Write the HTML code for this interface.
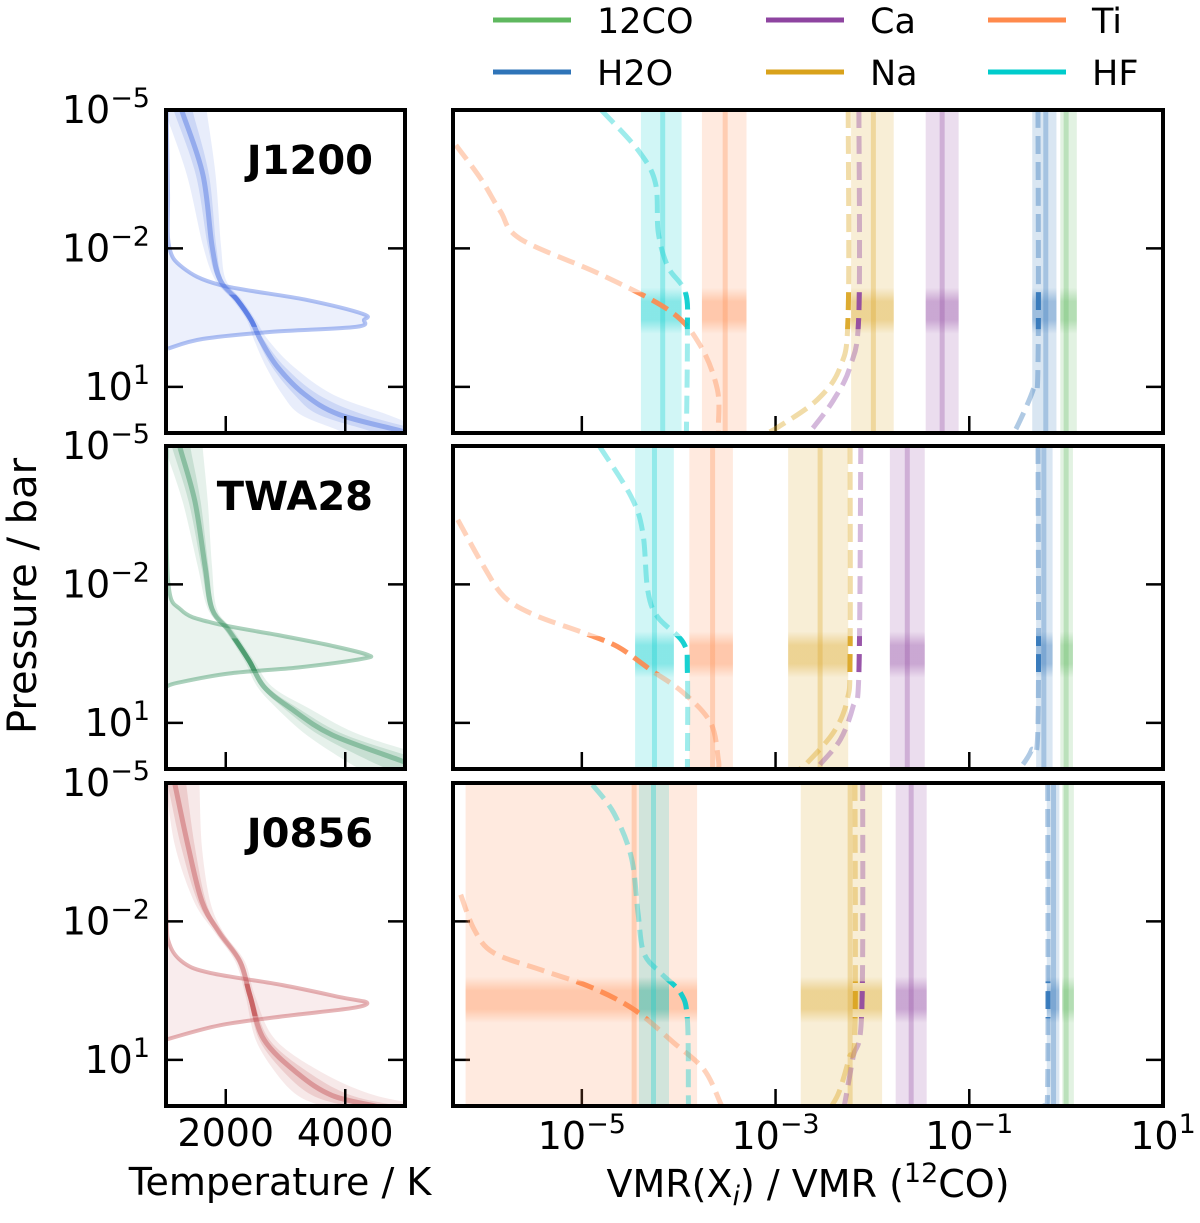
<!DOCTYPE html>
<html><head><meta charset="utf-8"><style>
body{margin:0;background:#fff;}
svg{display:block;font-family:"DejaVu Sans","Liberation Sans",sans-serif;}
</style></head><body>
<svg id="fig" width="1200" height="1223" viewBox="0 0 1200 1223" xmlns="http://www.w3.org/2000/svg">
<g id="legend"></g>
<g id="plots"></g>
<g id="labels"></g>
</svg>
<script>
// ---------- data ----------
const rowNames = ["J1200","TWA28","J0856"];
const rowColors = ["#4169e1","#2e8b57","#c0474a"];
const species = ["12CO","H2O","Ca","Na","Ti","HF"];
const specColors = {"12CO":"#5fb85f","H2O":"#2f74b8","Ca":"#8e44a0","Na":"#d9a21b","Ti":"#ff8a4c","HF":"#00cccc"};
const bandLogP = [-0.65,-0.48,-0.30];
const vmrCenter = [[0,-0.21,-1.28,-1.99,-3.52,-4.165],[0,-0.23,-1.64,-2.54,-3.65,-4.25],[0,-0.13,-1.60,-2.23,-4.46,-4.26]];
const vmrLo = [[-0.06,-0.35,-1.45,-2.22,-3.76,-4.39],[-0.06,-0.31,-1.82,-2.87,-3.89,-4.45],[-0.04,-0.20,-1.76,-2.74,-6.20,-4.41]];
const vmrHi = [[0.11,-0.10,-1.11,-1.78,-3.30,-3.97],[0.07,-0.14,-1.46,-2.25,-3.44,-4.05],[0.08,-0.07,-1.44,-1.90,-3.81,-4.10]];
const chemP = [
 {Ti:[-4.24,-3.5,-2.8,-2.2,-1.43,-0.63,0.13,1.06,1.86,2], HF:[-5,-4.13,-3.42,-2.34,-1.60,-1.04,-0.17,2], Na:[-5,-0.61,0.56,1.28,1.88,2], Ca:[-5,-0.61,0.56,1.28,1.88,2], H2O:[-5,0.5,1.06,1.88,2]},
 {Ti:[-3.4,-2.38,-1.73,-1.34,-0.95,-0.65,-0.15,0.35,1.0,1.8,2], HF:[-5,-3.9,-3.12,-1.88,-1.3,-0.73,-0.09,2], Na:[-5,-0.52,0.5,1.2,1.86,2], Ca:[-5,-0.09,0.65,1.36,1.9,2], H2O:[-5,1.0,1.6,2]},
 {Ti:[-2.58,-1.82,-1.32,-0.95,-0.58,-0.09,0.63,1.21,1.93,2], HF:[-4.96,-4.35,-3.4,-2.19,-1.32,-0.89,-0.45,0.13,1.86,2], Na:[-5,0.3,0.95,1.67,2], Ca:[-5,-0.06,0.95,2], H2O:[-5,1.5,2]}
];
const chemV = [
 {Ti:[-6.30,-6.04,-5.84,-5.63,-4.80,-4.08,-3.77,-3.60,-3.59,-3.59], HF:[-4.80,-4.42,-4.24,-4.21,-4.11,-3.93,-3.91,-3.92], Na:[-2.25,-2.25,-2.33,-2.57,-2.98,-3.1], Ca:[-2.14,-2.14,-2.23,-2.40,-2.61,-2.68], H2O:[-0.29,-0.29,-0.34,-0.51,-0.56]},
 {Ti:[-6.28,-6.01,-5.80,-5.49,-4.98,-4.63,-4.29,-3.95,-3.67,-3.59,-3.59], HF:[-4.82,-4.49,-4.37,-4.32,-4.22,-3.95,-3.91,-3.91], Na:[-2.23,-2.23,-2.26,-2.40,-2.67,-2.75], Ca:[-2.12,-2.14,-2.20,-2.33,-2.54,-2.58], H2O:[-0.29,-0.29,-0.36,-0.48]},
 {Ti:[-6.25,-6.11,-5.91,-5.42,-4.91,-4.46,-4.05,-3.74,-3.57,-3.56], HF:[-4.89,-4.67,-4.49,-4.42,-4.36,-4.19,-3.98,-3.91,-3.90,-3.90], Na:[-2.18,-2.18,-2.24,-2.34,-2.42], Ca:[-2.10,-2.11,-2.20,-2.29], H2O:[-0.19,-0.19,-0.23]}
];
const tpP = [[-5,-4.91,-3.59,-2.06,-1.32,-0.89,-0.45,0,0.58,1.17,1.6,1.95,2.1],
             [-5,-4.89,-3.79,-2.4,-1.47,-1.0,-0.35,0.22,0.69,1.26,1.82,2.1],
             [-5,-4.96,-3.64,-2.43,-1.77,-1.13,-0.39,0.56,1.30,1.77,2.0,2.1]];
const tpT = [[1260,1285,1619,1770,1904,2188,2423,2590,2874,3326,3895,4916,5300],
             [1230,1251,1485,1653,1770,2054,2389,2640,3092,3778,4933,5500],
             [1140,1151,1368,1602,1887,2238,2406,2640,3209,3778,4500,4800]];
const tpLo1 = [[1120,1150,1500,1700,1860,2150,2390,2540,2780,3150,3550,4400,4700],
               [1100,1120,1380,1590,1730,2020,2350,2590,2980,3560,4400,4900],
               [1020,1030,1250,1530,1850,2200,2370,2560,3000,3450,4000,4200]];
const tpHi1 = [[1460,1460,1720,1840,1950,2230,2460,2650,3000,3550,4300,5300,5700],
               [1420,1420,1580,1710,1810,2090,2430,2700,3220,4000,5300,5800],
               [1340,1340,1480,1670,1920,2280,2450,2730,3420,4100,4900,5200]];
const tpLo2 = [[1000,1000,1350,1620,1820,2110,2350,2480,2680,2950,3250,3900,4100],
               [1000,1000,1280,1530,1700,1990,2310,2530,2860,3350,4000,4400],
               [1000,1000,1150,1470,1810,2160,2330,2500,2850,3200,3600,3800]];
const tpHi2 = [[1690,1690,1830,1920,2000,2270,2500,2720,3150,3800,4700,5400,5800],
               [1620,1620,1700,1770,1850,2130,2470,2780,3400,4250,5600,6000],
               [1560,1560,1600,1740,1960,2320,2490,2830,3650,4500,5400,5600]];
const cfP = [[-5,-3.23,-2.06,-1.58,-1.21,-0.89,-0.58,-0.45,-0.30,-0.19,-0.04,0.17],
             [-5,-2.1,-1.45,-1.17,-0.89,-0.67,-0.48,-0.39,-0.2,-0.07,0.13,0.22],
             [-5,-2.2,-1.5,-1.1,-0.88,-0.62,-0.35,-0.24,-0.12,0.05,0.25,0.56]];
const cfT = [[1010,1033,1050,1285,1904,3326,4297,4314,4180,2757,1619,1033],
             [1010,1033,1251,1770,2925,3778,4364,4297,3209,2054,1201,1000],
             [1005,1010,1060,1300,1750,2950,3950,4364,4100,3000,1900,1000]];
const leftXTicks = [2000,4000];
const leftXTickLabels = ["2000","4000"];
const rightXTicks = [-5,-3,-1,1];
const yTicks = [-5,-2,1];

// ---------- geometry ----------
const NS="http://www.w3.org/2000/svg";
const rowTop=[110,446,783], H=323;
const L0=166,L1=405,R0=453,R1=1163;
function yP(r,lp){return rowTop[r]+(lp+5)*H/7;}
function xT(t){return L0+(t-1000)/4000*(L1-L0);}
function xV(v){return R0+(v+6.33)/7.33*(R1-R0);}
function mk(tag,attrs,parent){const e=document.createElementNS(NS,tag);for(const k in attrs)e.setAttribute(k,attrs[k]);if(parent)parent.appendChild(e);return e;}
function smooth(pts){
  if(pts.length<2)return "";
  let d="M"+pts[0][0].toFixed(1)+","+pts[0][1].toFixed(1);
  for(let i=0;i<pts.length-1;i++){
    const p0=pts[Math.max(0,i-1)],p1=pts[i],p2=pts[i+1],p3=pts[Math.min(pts.length-1,i+2)];
    const c1=[p1[0]+(p2[0]-p0[0])/6,p1[1]+(p2[1]-p0[1])/6];
    const c2=[p2[0]-(p3[0]-p1[0])/6,p2[1]-(p3[1]-p1[1])/6];
    d+="C"+c1[0].toFixed(1)+","+c1[1].toFixed(1)+" "+c2[0].toFixed(1)+","+c2[1].toFixed(1)+" "+p2[0].toFixed(1)+","+p2[1].toFixed(1);
  }
  return d;
}
const svg=document.getElementById('fig');
const plots=document.getElementById('plots');
const labels=document.getElementById('labels');
const defs=mk('defs',{},svg);

function tenLabel(x,y,exp,anchor,name){
  const t=mk('text',{x:x,y:y,'font-size':38,'text-anchor':anchor,fill:'#000'},labels);
  
  
  const a=mk('tspan',{},t);a.textContent='10';
  const b=mk('tspan',{dy:-16,'font-size':27},t);b.textContent=exp;
  return t;
}

for(let r=0;r<3;r++){
  const top=rowTop[r],bot=top+H;
  const col=rowColors[r];
  const bp=bandLogP[r];
  const cl=mk('clipPath',{id:'cl'+r},defs);mk('rect',{x:L0,y:top,width:L1-L0,height:H},cl);
  const cr=mk('clipPath',{id:'cr'+r},defs);mk('rect',{x:R0,y:top,width:R1-R0,height:H},cr);
  const cbl=mk('clipPath',{id:'cbl'+r},defs);mk('rect',{x:L0,y:yP(r,bp-0.35),width:L1-L0,height:yP(r,bp+0.35)-yP(r,bp-0.35)},cbl);
  const cbr=mk('clipPath',{id:'cbr'+r},defs);mk('rect',{x:R0,y:yP(r,bp-0.4),width:R1-R0,height:yP(r,bp+0.4)-yP(r,bp-0.4)},cbr);

  const gl=mk('g',{'clip-path':'url(#cl'+r+')'},plots);
  
  
  function env(lo,hi,op,nm){
    const up=tpP[r].map((p,i)=>[xT(lo[r][i]),yP(r,p)]);
    const dn=tpP[r].map((p,i)=>[xT(hi[r][i]),yP(r,p)]).reverse();
    const d=smooth(up)+" L"+smooth(dn).slice(1)+"Z";
    const e=mk('path',{d:d,fill:col,'fill-opacity':op,stroke:'none'},gl);
    
    
  }
  env(tpLo2,tpHi2,0.12,'pt-envelope-2sigma');
  env(tpLo1,tpHi1,0.17,'pt-envelope-1sigma');
  const cpts=cfP[r].map((p,i)=>[xT(cfT[r][i]),yP(r,p)]);
  const cd=smooth(cpts);
  const cf=mk('path',{d:cd+" L"+L0+","+cpts[cpts.length-1][1].toFixed(1)+" L"+L0+","+top+"Z",fill:col,'fill-opacity':0.1,stroke:'none'},gl);
  
  
  const cline=mk('path',{d:cd,fill:'none',stroke:col,'stroke-opacity':0.4,'stroke-width':4},gl);
  
  
  const mpts=tpP[r].map((p,i)=>[xT(tpT[r][i]),yP(r,p)]);
  const md=smooth(mpts);
  const ml=mk('path',{d:md,fill:'none',stroke:col,'stroke-opacity':0.4,'stroke-width':5},gl);
  
  
  const mld=mk('path',{d:md,fill:'none',stroke:col,'stroke-opacity':0.6,'stroke-width':5,'clip-path':'url(#cbl'+r+')'},plots);
  
  
  const fl=mk('rect',{x:L0,y:top,width:L1-L0,height:H,fill:'none',stroke:'#000','stroke-width':4},plots);
  
  
  yTicks.forEach(v=>{
    if(v===-5)return;
    const y=yP(r,v);
    mk('line',{x1:L0,y1:y,x2:L0+17,y2:y,stroke:'#000','stroke-width':2.5},plots);
    mk('line',{x1:L1-17,y1:y,x2:L1,y2:y,stroke:'#000','stroke-width':2.5},plots);
    mk('line',{x1:R0,y1:y,x2:R0+17,y2:y,stroke:'#000','stroke-width':2.5},plots);
    mk('line',{x1:R1-17,y1:y,x2:R1,y2:y,stroke:'#000','stroke-width':2.5},plots);
  });
  leftXTicks.forEach(t=>{mk('line',{x1:xT(t),y1:bot,x2:xT(t),y2:bot-17,stroke:'#000','stroke-width':2.5},plots);});
  rightXTicks.forEach(v=>{mk('line',{x1:xV(v),y1:bot,x2:xV(v),y2:bot-17,stroke:'#000','stroke-width':2.5},plots);});
  yTicks.forEach(v=>{tenLabel(150,yP(r,v)+13,v===-5?'\u22125':v===-2?'\u22122':'1','end','y-tick-label');});
  const nm=mk('text',{x:373,y:top+64,'font-size':40,'font-weight':'bold','text-anchor':'end',fill:'#000'},labels);
  nm.textContent=rowNames[r];
  
  

  const gr=mk('g',{'clip-path':'url(#cr'+r+')'},plots);
  
  
  species.forEach((s,i)=>{
    const c=specColors[s];
    const x0=xV(vmrLo[r][i]),x1=xV(vmrHi[r][i]),xc=xV(vmrCenter[r][i]);
    const b=mk('rect',{x:x0,y:top,width:x1-x0,height:H,fill:c,'fill-opacity':0.18},gr);
    
    
    const gid='g'+r+'_'+i;
    const lg=mk('linearGradient',{id:gid,x1:0,y1:0,x2:0,y2:1},defs);
    mk('stop',{offset:'0','stop-color':c,'stop-opacity':0},lg);
    mk('stop',{offset:'0.3','stop-color':c,'stop-opacity':0.35},lg);
    mk('stop',{offset:'0.7','stop-color':c,'stop-opacity':0.35},lg);
    mk('stop',{offset:'1','stop-color':c,'stop-opacity':0},lg);
    const ya=yP(r,bp-0.5),yb=yP(r,bp+0.5);
    const hb=mk('rect',{x:x0,y:ya,width:x1-x0,height:yb-ya,fill:'url(#'+gid+')'},gr);
    
    
    const cl2=mk('line',{x1:xc,y1:top,x2:xc,y2:bot,stroke:c,'stroke-opacity':0.3,'stroke-width':5},gr);
    
    
    const cl3=mk('line',{x1:xc,y1:ya,x2:xc,y2:yb,stroke:'url(#'+gid+')','stroke-width':5},gr);
    
    
  });
  ["H2O","Ca","Na","Ti","HF"].forEach(s=>{
    const pts=chemP[r][s].map((p,i)=>[xV(chemV[r][s][i]),yP(r,p)]);
    const d=smooth(pts);
    const p1=mk('path',{d:d,fill:'none',stroke:specColors[s],'stroke-opacity':0.38,'stroke-width':5,'stroke-dasharray':'18,8'},gr);
    
    
    const g2=mk('g',{'clip-path':'url(#cbr'+r+')'},gr);
    const p2=mk('path',{d:d,fill:'none',stroke:specColors[s],'stroke-opacity':0.85,'stroke-width':5,'stroke-dasharray':'18,8'},g2);
    
    
  });
  const fr=mk('rect',{x:R0,y:top,width:R1-R0,height:H,fill:'none',stroke:'#000','stroke-width':4},plots);
  
  
}
leftXTicks.forEach((t,i)=>{
  const e=mk('text',{x:xT(t),y:1146,'font-size':38,'text-anchor':'middle',fill:'#000'},labels);
  e.textContent=leftXTickLabels[i];
  
  
});
rightXTicks.forEach(v=>{tenLabel(xV(v),1149,v<0?'\u2212'+(-v):String(v),'middle','x-tick-label');});
const xt1=mk('text',{x:280,y:1195,'font-size':38,'text-anchor':'middle',fill:'#000'},labels);
xt1.textContent='Temperature / K';


const xt2=mk('text',{x:808,y:1197,'font-size':38,'text-anchor':'middle',fill:'#000'},labels);
xt2.innerHTML='VMR(X<tspan font-style="italic" font-size="27" dy="8">i</tspan><tspan dy="-8">) / VMR (</tspan><tspan font-size="27" dy="-15">12</tspan><tspan dy="15">CO)</tspan>';


const yt=mk('text',{x:0,y:0,'font-size':40,'text-anchor':'middle',fill:'#000',transform:'translate(36,596) rotate(-90)'},labels);
yt.textContent='Pressure / bar';


const legend=document.getElementById('legend');
const legItems=[["12CO",493,20],["H2O",493,72],["Ca",766,20],["Na",766,72],["Ti",988,20],["HF",988,72]];
legItems.forEach(it=>{
  const g=mk('g',{},legend);
  
  
  mk('line',{x1:it[1],y1:it[2],x2:it[1]+78,y2:it[2],stroke:specColors[it[0]],'stroke-width':5},g);
  const t=mk('text',{x:it[1]+104,y:it[2]+13,'font-size':35,fill:'#000'},g);
  t.textContent=it[0];
});
</script>
</body></html>
